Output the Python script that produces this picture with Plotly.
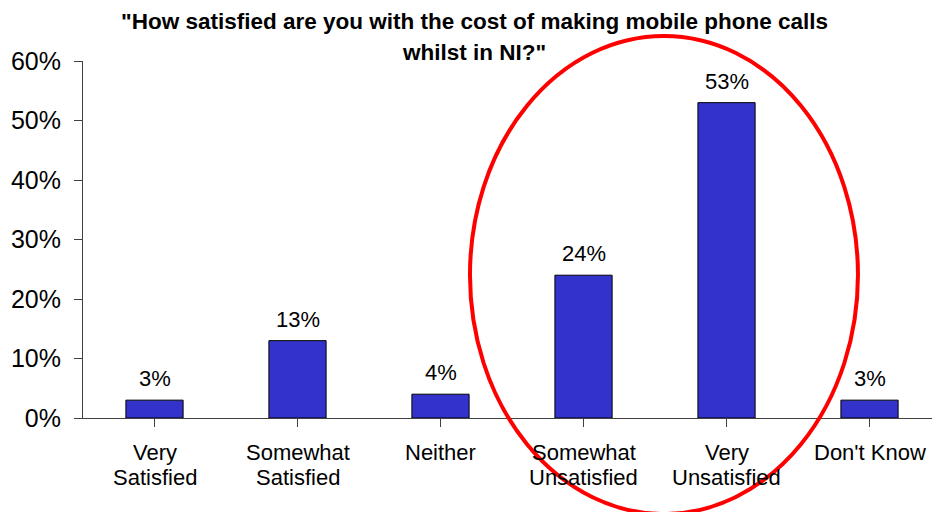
import plotly.graph_objects as go

# Survey answers and the share of respondents giving each one
categories = [["Very", "Satisfied"], ["Somewhat", "Satisfied"], ["Neither"],
              ["Somewhat", "Unsatisfied"], ["Very", "Unsatisfied"], ["Don't Know"]]
shares = [3, 13, 4, 24, 53, 3]
y_ticks = [0, 10, 20, 30, 40, 50, 60]
y_tick_labels = ["0%", "10%", "20%", "30%", "40%", "50%", "60%"]

title_lines = ['"How satisfied are you with the cost of making mobile phone calls',
               'whilst in NI?"']

FONT = "Arial, Liberation Sans, Helvetica, sans-serif"
BAR_FILL = "#3333CC"

# Plot area in pixels: x from 83 to 932, y from 61 (top) to 418 (axis)
PLOT_TOP, PLOT_BOTTOM = 61, 418

positions = list(range(len(categories)))

fig = go.Figure()
fig.add_trace(go.Bar(
    x=positions,
    y=shares,
    width=0.4,
    marker=dict(color=BAR_FILL, line=dict(color="#000000", width=1)),
    hoverinfo="skip",
))

# Value labels above each bar
for pos, val in zip(positions, shares):
    fig.add_annotation(
        x=pos, y=val, xref="x", yref="y",
        text=f"{val}%", showarrow=False,
        yanchor="bottom", yshift=7,
        font=dict(family=FONT, size=22, color="#000000"),
    )

# Category names under the axis, one annotation per line
for pos, lines in zip(positions, categories):
    for i, line in enumerate(lines):
        fig.add_annotation(
            x=pos, y=0, xref="x", yref="y",
            text=line, showarrow=False,
            yanchor="middle", yshift=-(34 + 25 * i),
            font=dict(family=FONT, size=22, color="#000000"),
        )

# Two-line title
for i, line in enumerate(title_lines):
    y_px = 22 + 30 * i
    fig.add_annotation(
        x=(474 - 83) / (932 - 83),
        y=(PLOT_BOTTOM - y_px) / (PLOT_BOTTOM - PLOT_TOP),
        xref="paper", yref="paper",
        text=f"<b>{line}</b>", showarrow=False,
        xanchor="center", yanchor="middle",
        font=dict(family=FONT, size=22.5, color="#000000"),
    )

# Red ring highlighting the dissatisfied answers
fig.add_shape(
    type="circle", xref="paper", yref="paper",
    x0=0.4558, x1=0.9128, y0=-0.269, y1=1.070,
    line=dict(color="#FF0000", width=4),
    layer="above",
)

fig.update_layout(
    width=932, height=512,
    margin=dict(l=83, r=0, t=PLOT_TOP, b=512 - PLOT_BOTTOM),
    paper_bgcolor="white", plot_bgcolor="white",
    showlegend=False,
    xaxis=dict(
        range=[-0.5, 5.437],
        tickvals=positions, showticklabels=False,
        showline=True, linecolor="#404040", linewidth=1,
        ticks="outside", tickson="boundaries", ticklen=8, tickcolor="#404040",
        showgrid=False, zeroline=False, fixedrange=True,
    ),
    yaxis=dict(
        range=[0, 60],
        tickmode="array", tickvals=y_ticks, ticktext=y_tick_labels,
        showline=True, linecolor="#404040", linewidth=1,
        ticks="outside", ticklen=8, tickcolor="#404040",
        tickfont=dict(family=FONT, size=25, color="#000000"),
        ticklabelstandoff=8,
        showgrid=False, zeroline=False, fixedrange=True,
    ),
)

fig.write_html("out.html")
